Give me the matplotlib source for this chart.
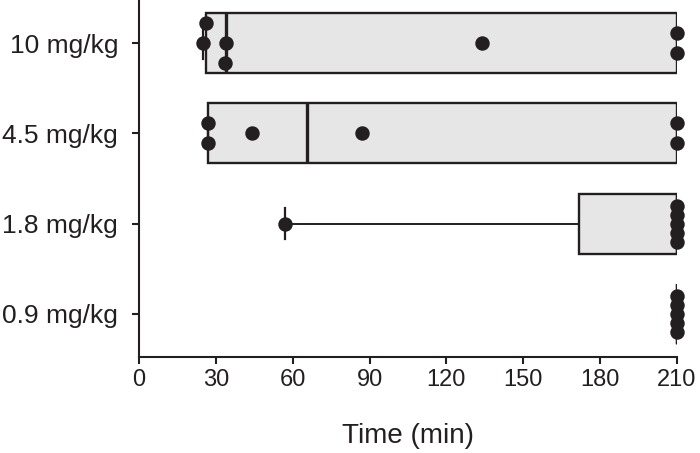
import numpy as np
import matplotlib
matplotlib.use("Agg")
import matplotlib.pyplot as plt

# Dados (tempo em minutos, 210 = fim da observação)
grupos = ["0.9 mg/kg", "1.8 mg/kg", "4.5 mg/kg", "10 mg/kg"]
tempo_09 = [210, 210, 210, 210, 210]
tempo_18 = [57, 210, 210, 210, 210, 210]
tempo_45 = [27, 27, 44, 87, 210, 210]
tempo_10 = [25, 26, 34, 33.5, 134, 210, 210]
dados = [tempo_09, tempo_18, tempo_45, tempo_10]

x_ticks = [0, 30, 60, 90, 120, 150, 180, 210]

cor = "#231f20"
cinza = "#e6e6e6"

# escala aproximada em pixels (para o arranjo tipo "swarm")
PX_X = 538 / 210.0
PX_Y = 90.2
PASSO = 0.222
DIST_X = 22
DIST_Y = 15


def offsets_swarm(vals):
    vals = np.asarray(vals, float)
    offs = np.zeros(len(vals))
    colocados = []
    for i, v in enumerate(vals):
        empates = list(np.where(vals == v)[0])
        if len(empates) > 1:
            k = empates.index(i)
            st = min(PASSO, 0.4 / (len(empates) - 1))
            offs[i] = (k - (len(empates) - 1) / 2) * st
            continue
        for j in range(30):
            cand = ((j + 1) // 2) * PASSO * (1 if j % 2 else -1)
            ok = True
            for pv, pc in colocados:
                if abs(v - pv) * PX_X < DIST_X and abs(cand - pc) * PX_Y < DIST_Y:
                    ok = False
                    break
            if ok:
                offs[i] = cand
                break
        colocados.append((v, offs[i]))
    return offs


fig = plt.figure(figsize=(7, 4.53), dpi=100)
ax = fig.add_axes([139 / 700, 1 - 357 / 453, 538 / 700, 357 / 453])

stats = []
for nome, vals in zip(grupos, dados):
    q1, med, q3 = np.percentile(vals, [25, 50, 75], method="weibull")
    stats.append(dict(label=nome, med=med, q1=q1, q3=q3,
                      whislo=min(vals), whishi=max(vals), fliers=[]))

ax.bxp(stats, positions=range(len(grupos)), vert=False, widths=0.667,
       capwidths=0.35, patch_artist=True, showfliers=False,
       boxprops=dict(facecolor=cinza, edgecolor=cor, linewidth=1.7),
       whiskerprops=dict(color=cor, linewidth=1.4),
       capprops=dict(color=cor, linewidth=1.6),
       medianprops=dict(color=cor, linewidth=2.4))

for pos, vals in enumerate(dados):
    off = offsets_swarm(vals)
    ax.plot(vals, pos + off, "o", ms=9.4, color=cor, mec=cor, zorder=5,
            clip_on=False)

fonte = ["Liberation Sans", "DejaVu Sans"]
ax.set_xlim(0, 210)
ax.set_ylim(-0.478, 3.478)
ax.set_xticks(x_ticks)
ax.set_yticks(range(len(grupos)))
ax.set_yticklabels(grupos, fontsize=19, family=fonte, color=cor)
ax.set_xticklabels([str(t) for t in x_ticks], fontsize=17, family=fonte, color=cor)
ax.set_xlabel("Time (min)", fontsize=20, family=fonte, color=cor, labelpad=23)

for lado in ["top", "right"]:
    ax.spines[lado].set_visible(False)
for lado in ["left", "bottom"]:
    ax.spines[lado].set_linewidth(1.5)
    ax.spines[lado].set_color(cor)
ax.tick_params(axis="both", direction="out", length=5, width=1.5, color=cor)
ax.tick_params(axis="y", pad=10)
ax.tick_params(axis="x", pad=4)

fig.savefig("out.png", dpi=100)
